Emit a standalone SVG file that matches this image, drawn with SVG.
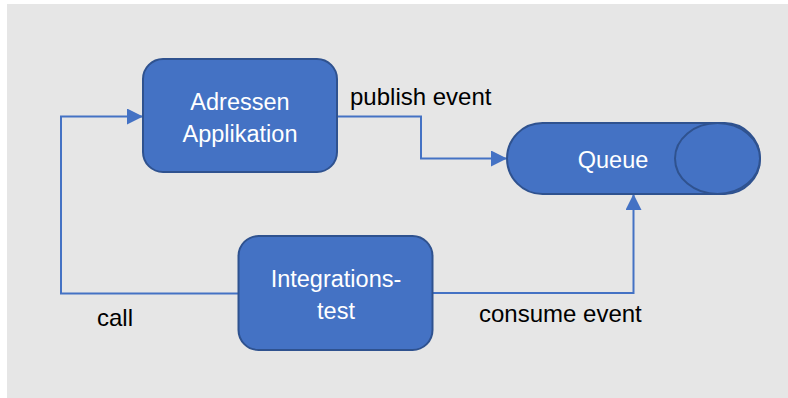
<svg xmlns="http://www.w3.org/2000/svg" width="788" height="398" viewBox="0 0 788 398">
  <style>
    .node { fill: #4472c4; stroke: #2f528f; stroke-width: 2; }
    .ntext { fill: #ffffff; font-family: "Liberation Sans", Arial, sans-serif; font-size: 23.5px; text-anchor: middle; }
    .label { fill: #000000; font-family: "Liberation Sans", Arial, sans-serif; font-size: 24px; }
    .conn { fill: none; stroke: #4472c4; stroke-width: 2; }
  </style>
  <defs>
    <marker id="arrow" viewBox="0 0 16 16" refX="15" refY="8" markerWidth="16" markerHeight="16" markerUnits="userSpaceOnUse" orient="auto">
      <path d="M0,0 L16,8 L0,16 Z" fill="#4472c4"/>
    </marker>
  </defs>

  <!-- canvas -->
  <rect x="7" y="4" width="781" height="394" fill="#e6e6e6"/>

  <!-- connectors -->
  <g id="connectors">
    <path class="conn" d="M239,293.5 H61 V116.5 H142" marker-end="url(#arrow)"/>
    <path class="conn" d="M337,116.5 H421 V158.5 H506" marker-end="url(#arrow)"/>
    <path class="conn" d="M433,293 H633.5 V195" marker-end="url(#arrow)"/>
    <text class="label" x="97" y="326">call</text>
    <text class="label" x="350" y="105">publish event</text>
    <text class="label" x="479" y="322">consume event</text>
  </g>

  <g id="adressen">
    <rect class="node" x="143" y="59" width="194" height="113" rx="20" ry="20"/>
    <text class="ntext" x="240" y="110">Adressen</text>
    <text class="ntext" x="240" y="142">Applikation</text>
  </g>

  <g id="queue">
    <rect class="node" x="507" y="123" width="253" height="71" rx="35.5" ry="35.5"/>
    <ellipse class="node" cx="717.5" cy="158.5" rx="42.5" ry="35.5"/>
    <text class="ntext" x="613" y="168">Queue</text>
  </g>

  <g id="integrationstest">
    <rect class="node" x="238.5" y="236" width="194" height="114" rx="20" ry="20"/>
    <text class="ntext" x="336" y="287">Integrations-</text>
    <text class="ntext" x="336" y="319">test</text>
  </g>
</svg>
